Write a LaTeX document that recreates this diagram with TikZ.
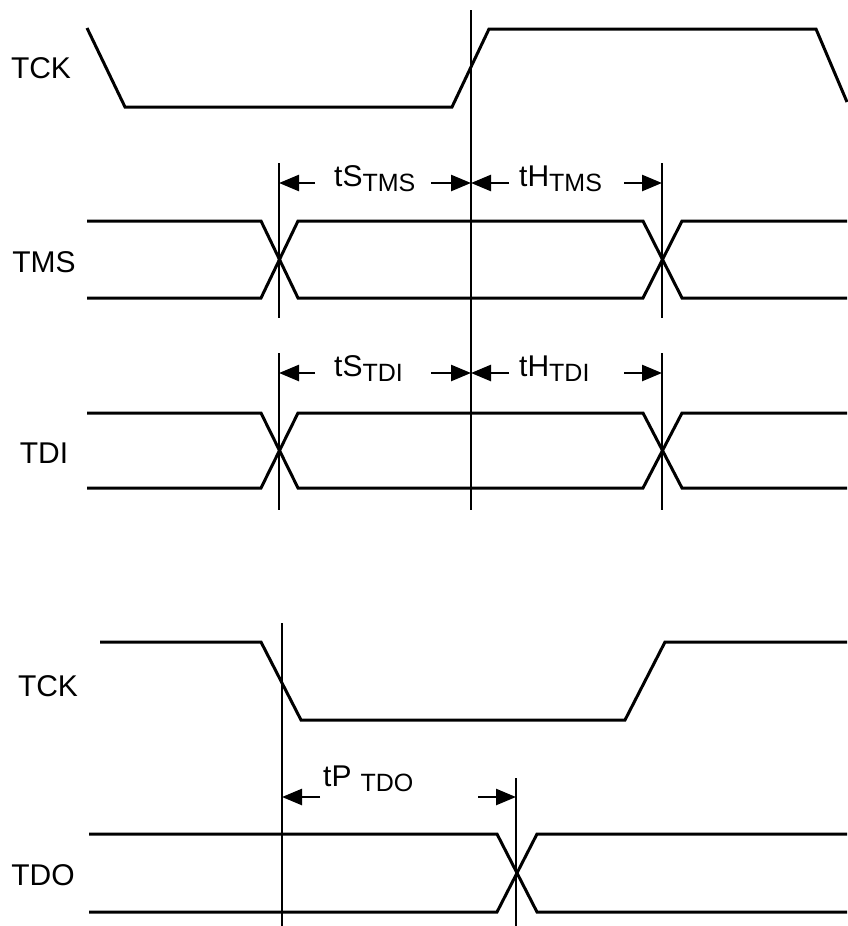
\documentclass[tikz,border=0pt]{standalone}
\usepackage{fontspec}
\setmainfont{Liberation Sans}
\usetikzlibrary{arrows.meta}

\tikzset{
  wave/.style={line width=3pt, line join=miter},
  edgeline/.style={line width=2.5pt},
  dimarrow/.style={line width=2.5pt, -{Triangle[length=20pt,width=16pt]}},
  siglabel/.style={font=\fontsize{30}{30}\selectfont, inner sep=0pt},
  timelabel/.style={font=\fontsize{30}{30}\selectfont, anchor=base west, inner sep=0pt}
}
\newcommand{\tsub}[1]{\raisebox{-5pt}{\fontsize{25}{25}\selectfont #1}}

\begin{document}
\begin{tikzpicture}[x=1pt,y=-1pt]
  \useasboundingbox (0,0) rectangle (847,926);

  % TCK (setup / hold)
  \node[siglabel] (tckA) at (41,68) {TCK};
  \draw[wave] (87,28) -- (125,107) -- (452,107) -- (489,29) -- (816,29) -- (847,102);

  % Rising edge
  \coordinate (riseT) at (471,10);
  \coordinate (riseB) at (471,510);
  \draw[edgeline] (riseT) -- (riseB);

  % TMS and TDI
  \foreach \sig/\hi/\lo/\top/\bot/\y in {TMS/221/298/163/318/183, TDI/413/488/353/510/373}
  {
    \node[siglabel] (lab\sig) at (44,{(\hi+\lo)/2+3}) {\sig};
    \draw[wave] (87,\hi) -- (261,\hi) -- (298,\lo) -- (643,\lo) -- (682,\hi) -- (847,\hi);
    \draw[wave] (87,\lo) -- (261,\lo) -- (298,\hi) -- (643,\hi) -- (682,\lo) -- (847,\lo);

    % Marques
    \coordinate (s\sig) at (279,\y);
    \coordinate (c\sig) at (471,\y);
    \coordinate (h\sig) at (662,\y);
    \draw[edgeline] (279,\top) -- (279,\bot);
    \draw[edgeline] (662,\top) -- (662,\bot);

    % Setup
    \coordinate (sa\sig) at (315,\y);
    \coordinate (sb\sig) at (431,\y);
    \draw[dimarrow] (sa\sig) -- (s\sig);
    \draw[dimarrow] (sb\sig) -- (c\sig);
    \node[timelabel] (ts\sig) at (334,\y+3) {tS\tsub{\sig}};

    % Hold
    \coordinate (ha\sig) at (509,\y);
    \coordinate (hb\sig) at (624,\y);
    \draw[dimarrow] (ha\sig) -- (c\sig);
    \draw[dimarrow] (hb\sig) -- (h\sig);
    \node[timelabel] (th\sig) at (519,\y+3) {tH\tsub{\sig}};
  }

  % TCK (propagation)
  \node[siglabel] (tckB) at (48,686) {TCK};
  \draw[wave] (100,642) -- (261,642) -- (301,720) -- (625,720) -- (665,642) -- (847,642);

  % Falling edge and TDO valid
  \coordinate (fallT) at (282,623);
  \coordinate (fallB) at (282,926);
  \coordinate (validT) at (516,778);
  \coordinate (validB) at (516,926);
  \draw[edgeline] (fallT) -- (fallB);
  \draw[edgeline] (validT) -- (validB);

  % TDO
  \node[siglabel] (labTDO) at (43,875) {TDO};
  \draw[wave] (89,834) -- (497,834) -- (537,912) -- (847,912);
  \draw[wave] (89,912) -- (497,912) -- (537,834) -- (847,834);

  % Propagation delay
  \coordinate (pa) at (282,797);
  \coordinate (pb) at (320,797);
  \coordinate (pc) at (478,797);
  \coordinate (pd) at (516,797);
  \draw[dimarrow] (pb) -- (pa);
  \draw[dimarrow] (pc) -- (pd);
  \node[timelabel] (tp) at (323,786) {tP\hspace{9pt}\tsub{TDO}};

\end{tikzpicture}
\end{document}
